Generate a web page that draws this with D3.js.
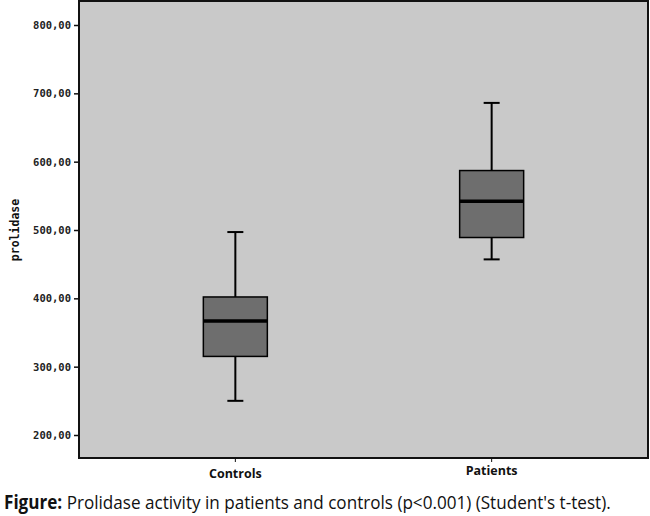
<!DOCTYPE html>
<html><head><meta charset="utf-8">
<script src="https://cdn.jsdelivr.net/npm/d3@7"></script>
<style>body{margin:0;background:#fff}</style>
</head><body>
<svg id="chart" width="650" height="516"></svg>
<script>
// box plot values
var groups = ["Controls", "Patients"];
var whiskerLow = [250, 457];
var q1 = [315, 489];
var medians = [367, 542];
var q3 = [402, 587];
var whiskerHigh = [497, 686];
var yTicks = [200, 300, 400, 500, 600, 700, 800];

var svg = d3.select("#chart");
var plotLeft = 79, plotRight = 648, plotTop = 1, plotBottom = 458;

var y = d3.scaleLinear().domain([200, 800]).range([435, 25]);
var x = d3.scalePoint().domain(groups).range([plotLeft, plotRight]).padding(0.61);

svg.append("rect").attr("x", plotLeft).attr("y", plotTop).attr("width", plotRight - plotLeft).attr("height", plotBottom - plotTop)
  .attr("fill", "#c9c9c9").attr("stroke", "#111").attr("stroke-width", 2);

var yAxis = svg.append("g").attr("transform", "translate(" + plotLeft + ",0)")
  .call(d3.axisLeft(y).tickValues(yTicks).tickSize(5).tickFormat(function(d){ return d + ",00"; }));
yAxis.select(".domain").remove();
yAxis.selectAll("line").attr("stroke", "#111").attr("stroke-width", 1.5);
yAxis.selectAll("text").attr("font-family", "DejaVu Sans Mono").attr("font-weight", "bold")
  .attr("font-size", 10.5).attr("fill", "#222");

svg.append("text").attr("transform", "translate(19,230) rotate(-90)").attr("text-anchor", "middle")
  .attr("font-family", "DejaVu Sans Mono").attr("font-weight", "bold").attr("font-size", 11.5)
  .attr("fill", "#111").text("prolidase");

groups.forEach(function(g, i) {
  var cx = x(g), bw = 64, cap = 16;
  var gg = svg.append("g").attr("stroke", "#000").attr("stroke-width", 2);
  gg.append("line").attr("x1", cx).attr("x2", cx).attr("y1", y(whiskerLow[i])).attr("y2", y(q1[i]));
  gg.append("line").attr("x1", cx).attr("x2", cx).attr("y1", y(q3[i])).attr("y2", y(whiskerHigh[i]));
  gg.append("line").attr("x1", cx - cap / 2).attr("x2", cx + cap / 2).attr("y1", y(whiskerLow[i])).attr("y2", y(whiskerLow[i]));
  gg.append("line").attr("x1", cx - cap / 2).attr("x2", cx + cap / 2).attr("y1", y(whiskerHigh[i])).attr("y2", y(whiskerHigh[i]));
  gg.append("rect").attr("x", cx - bw / 2).attr("width", bw).attr("y", y(q3[i])).attr("height", y(q1[i]) - y(q3[i]))
    .attr("fill", "#6e6e6e").attr("stroke-width", 1.5);
  gg.append("line").attr("x1", cx - bw / 2).attr("x2", cx + bw / 2).attr("y1", y(medians[i])).attr("y2", y(medians[i]))
    .attr("stroke-width", 3.5);
  svg.append("line").attr("x1", cx).attr("x2", cx).attr("y1", plotBottom).attr("y2", plotBottom + 4).attr("stroke", "#111");
  svg.append("text").attr("x", cx).attr("y", i === 0 ? 478 : 475).attr("text-anchor", "middle")
    .attr("font-family", "Open Sans").attr("font-weight", "bold").attr("font-size", 12.5).attr("fill", "#111").text(g);
});

var caption = svg.append("text").attr("transform", "translate(4,509) scale(0.9,1)")
  .attr("font-family", "Open Sans").attr("font-size", 19).attr("fill", "#111");
caption.append("tspan").attr("font-weight", "bold").text("Figure:");
caption.append("tspan").text(" Prolidase activity in patients and controls (p<0.001) (Student's t-test).");
</script>
</body></html>
